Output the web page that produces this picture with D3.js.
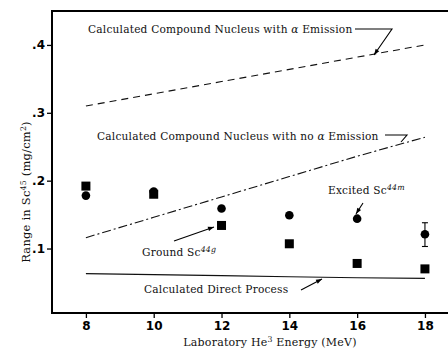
<!DOCTYPE html>
<html>
<head>
<meta charset="utf-8">
<script src="https://cdn.jsdelivr.net/npm/d3@7"></script>
<style>
  body { margin: 0; background: #fff; }
  svg { display: block; }
  .lbl { font-family: "DejaVu Serif", serif; font-size: 10.6px; letter-spacing: 0.2px; fill: #111; }
  .tick text { font-family: "DejaVu Sans", sans-serif; font-weight: bold; font-size: 12px; fill: #000; }
</style>
</head>
<body>
<div id="chart"></div>
<script>
  // energies (MeV) and measured ranges (mg/cm^2)
  const energies = [8, 10, 12, 14, 16, 18];
  const excitedRange = [0.178, 0.184, 0.159, 0.149, 0.144, 0.121];
  const groundRange = [0.192, 0.180, 0.134, 0.107, 0.078, 0.070];
  const errLow = [null, null, null, null, null, 0.103];
  const errHigh = [null, null, null, null, null, 0.138];

  // calculated curves
  const alphaEmission = [0.310, 0.328, 0.346, 0.364, 0.382, 0.400];
  const noAlphaEmission = [0.116, 0.146, 0.176, 0.206, 0.236, 0.264];
  const directProcess = [0.063, 0.0615, 0.060, 0.0585, 0.057, 0.056];

  const xTicks = [8, 10, 12, 14, 16, 18];
  const yTicks = [0.1, 0.2, 0.3, 0.4];

  const width = 448, height = 349;
  const plotLeft = 52, plotTop = 11, plotBottom = 313;

  const x = d3.scaleLinear().domain([7, 18.68]).range([plotLeft, width]);
  const y = d3.scaleLinear().domain([0.005, 0.45]).range([plotBottom, plotTop]);

  const svg = d3.select("#chart").append("svg")
    .attr("width", width)
    .attr("height", height);

  // frame (left, top, bottom; right side runs off the page)
  svg.append("path")
    .attr("d", `M${width},${plotTop}H${plotLeft}V${plotBottom}H${width}`)
    .attr("fill", "none")
    .attr("stroke", "#000")
    .attr("stroke-width", 2);

  const yAxis = svg.append("g")
    .attr("transform", `translate(${plotLeft},0)`)
    .call(d3.axisLeft(y).tickValues(yTicks).tickSize(5).tickPadding(2)
      .tickFormat(d => String(d).replace("0.", ".")));
  yAxis.select(".domain").remove();
  yAxis.selectAll(".tick line").attr("stroke-width", 1.3);

  const xAxis = svg.append("g")
    .attr("transform", `translate(0,${plotBottom})`)
    .call(d3.axisBottom(x).tickValues(xTicks).tickSize(5).tickPadding(3));
  xAxis.select(".domain").remove();
  xAxis.selectAll(".tick line").attr("stroke-width", 1.3);

  const line = vals => d3.line()
    .x((d, i) => x(energies[i]))
    .y(d => y(d))(vals);

  svg.append("path").attr("d", line(alphaEmission))
    .attr("fill", "none").attr("stroke", "#111").attr("stroke-width", 1.1)
    .attr("stroke-dasharray", "7,5");

  svg.append("path").attr("d", line(noAlphaEmission))
    .attr("fill", "none").attr("stroke", "#111").attr("stroke-width", 1.1)
    .attr("stroke-dasharray", "9,3,2,3");

  svg.append("path").attr("d", line(directProcess))
    .attr("fill", "none").attr("stroke", "#111").attr("stroke-width", 1.1);

  // error bars
  const errs = energies.map((e, i) => ({ e, lo: errLow[i], hi: errHigh[i] })).filter(d => d.lo != null);
  const eb = svg.append("g").attr("stroke", "#000").attr("stroke-width", 1.1);
  errs.forEach(d => {
    eb.append("line").attr("x1", x(d.e)).attr("x2", x(d.e)).attr("y1", y(d.lo)).attr("y2", y(d.hi));
    eb.append("line").attr("x1", x(d.e) - 3).attr("x2", x(d.e) + 3).attr("y1", y(d.lo)).attr("y2", y(d.lo));
    eb.append("line").attr("x1", x(d.e) - 3).attr("x2", x(d.e) + 3).attr("y1", y(d.hi)).attr("y2", y(d.hi));
  });

  // ground state squares
  svg.append("g").selectAll("rect")
    .data(groundRange)
    .join("rect")
    .attr("x", (d, i) => x(energies[i]) - 4.5)
    .attr("y", d => y(d) - 4.5)
    .attr("width", 9)
    .attr("height", 9)
    .attr("fill", "#000");

  // excited state circles
  svg.append("g").selectAll("circle")
    .data(excitedRange)
    .join("circle")
    .attr("cx", (d, i) => x(energies[i]))
    .attr("cy", d => y(d))
    .attr("r", 4.3)
    .attr("fill", "#000");

  // annotations
  const note = (tx, ty, parts) => {
    const t = svg.append("text").attr("class", "lbl").attr("x", tx).attr("y", ty);
    parts.forEach(p => {
      const s = t.append("tspan").text(p.t);
      if (p.sup) s.attr("baseline-shift", "super").attr("font-size", "7.8px");
      if (p.it) s.attr("font-style", "italic");
    });
    return t;
  };
  note(88, 33, [{ t: "Calculated Compound Nucleus with " }, { t: "α", it: true }, { t: " Emission" }]);
  note(97, 140, [{ t: "Calculated Compound Nucleus with no " }, { t: "α", it: true }, { t: " Emission" }]);
  note(328, 194, [{ t: "Excited Sc" }, { t: "44m", sup: true, it: true }]);
  note(142, 256, [{ t: "Ground Sc" }, { t: "44g", sup: true, it: true }]);
  note(144, 293, [{ t: "Calculated Direct Process" }]);

  const leaders = svg.append("g").attr("fill", "none").attr("stroke", "#000").attr("stroke-width", 1.1);
  leaders.append("path").attr("d", "M355,29H392L374,55");
  leaders.append("path").attr("d", "M385,135H407L401,142");
  leaders.append("path").attr("d", "M363,203L356,214");
  leaders.append("path").attr("d", "M174,241L214,227");
  leaders.append("path").attr("d", "M301,290L322,279");

  const head = (px, py, ang) => {
    svg.append("path")
      .attr("d", "M0,0L-6,-2.2L-6,2.2Z")
      .attr("fill", "#000")
      .attr("transform", `translate(${px},${py}) rotate(${ang})`);
  };
  head(374, 55, 125);
  head(356, 214, 122);
  head(214, 227, -19);
  head(322, 279, -28);

  // axis titles
  note(0, 0, [{ t: "Laboratory He" }, { t: "3", sup: true }, { t: " Energy (MeV)" }])
    .attr("x", 270).attr("y", 346).attr("text-anchor", "middle").style("font-size", "11px");
  note(0, 0, [{ t: "Range in Sc" }, { t: "45", sup: true }, { t: " (mg/cm" }, { t: "2", sup: true }, { t: ")" }])
    .attr("text-anchor", "middle").style("font-size", "11.5px")
    .attr("transform", "translate(30,192) rotate(-90)");
</script>
</body>
</html>
